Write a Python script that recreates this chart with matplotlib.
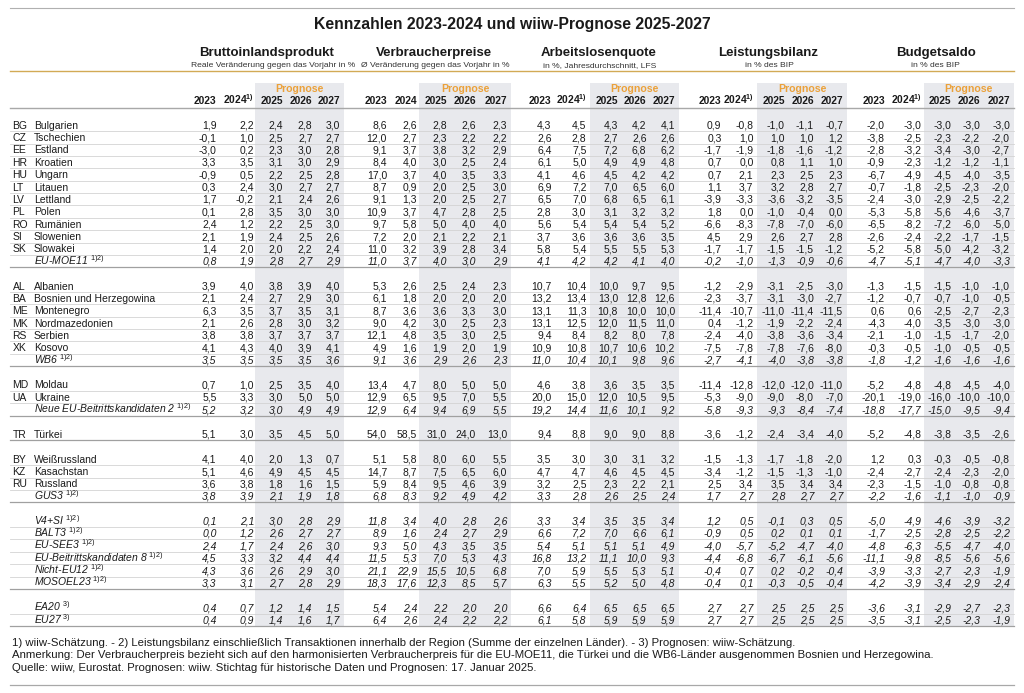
import matplotlib
matplotlib.use("Agg")
import matplotlib.pyplot as plt

plt.rcParams['font.family'] = ['Liberation Sans', 'DejaVu Sans']
plt.rcParams['mathtext.fontset'] = 'custom'
plt.rcParams['mathtext.rm'] = 'Liberation Sans'
plt.rcParams['mathtext.it'] = 'Liberation Sans:italic'
plt.rcParams['mathtext.bf'] = 'Liberation Sans:bold'

# ---------------- data ----------------
title = "Kennzahlen 2023-2024 und wiiw-Prognose 2025-2027"
groups = ["Bruttoinlandsprodukt", "Verbraucherpreise", "Arbeitslosenquote",
          "Leistungsbilanz", "Budgetsaldo"]
subtitles = ["Reale Veränderung gegen das Vorjahr in %",
             "Ø Veränderung gegen das Vorjahr in %",
             "in %, Jahresdurchschnitt, LFS",
             "in % des BIP", "in % des BIP"]
years = ["2023", "2024", "2025", "2026", "2027"]
year2024_note = ["1)", "", "1)", "1)", "1)"]
block_sizes = [12, 7, 3, 1, 4, 6, 2]

codes = ["BG", "CZ", "EE", "HR", "HU", "LT", "LV", "PL", "RO", "SI", "SK", "",
         "AL", "BA", "ME", "MK", "RS", "XK", "",
         "MD", "UA", "",
         "TR",
         "BY", "KZ", "RU", "",
         "", "", "", "", "", "",
         "", ""]
names = ["Bulgarien", "Tschechien", "Estland", "Kroatien", "Ungarn", "Litauen",
         "Lettland", "Polen", "Rumänien", "Slowenien", "Slowakei", "EU-MOE11",
         "Albanien", "Bosnien und Herzegowina", "Montenegro", "Nordmazedonien",
         "Serbien", "Kosovo", "WB6",
         "Moldau", "Ukraine", "Neue EU-Beitrittskandidaten 2",
         "Türkei",
         "Weißrussland", "Kasachstan", "Russland", "GUS3",
         "V4+SI", "BALT3", "EU-SEE3", "EU-Beitrittskandidaten 8", "Nicht-EU12",
         "MOSOEL23",
         "EA20", "EU27"]
name_notes = ["", "", "", "", "", "", "", "", "", "", "", "1)2)",
              "", "", "", "", "", "", "1)2)",
              "", "", "1)2)",
              "",
              "", "", "", "1)2)",
              "1)2)", "1)2)", "1)2)", "1)2)", "1)2)", "1)2)",
              "3)", "3)"]

bip = [
    [1.9, 2.2, 2.4, 2.8, 3.0], [-0.1, 1.0, 2.5, 2.7, 2.7], [-3.0, 0.2, 2.3, 3.0, 2.8],
    [3.3, 3.5, 3.1, 3.0, 2.9], [-0.9, 0.5, 2.2, 2.5, 2.8], [0.3, 2.4, 3.0, 2.7, 2.7],
    [1.7, -0.2, 2.1, 2.4, 2.6], [0.1, 2.8, 3.5, 3.0, 3.0], [2.4, 1.2, 2.2, 2.5, 3.0],
    [2.1, 1.9, 2.4, 2.5, 2.6], [1.4, 2.0, 2.0, 2.2, 2.4], [0.8, 1.9, 2.8, 2.7, 2.9],
    [3.9, 4.0, 3.8, 3.9, 4.0], [2.1, 2.4, 2.7, 2.9, 3.0], [6.3, 3.5, 3.7, 3.5, 3.1],
    [2.1, 2.6, 2.8, 3.0, 3.2], [3.8, 3.8, 3.7, 3.7, 3.7], [4.1, 4.3, 4.0, 3.9, 4.1],
    [3.5, 3.5, 3.5, 3.5, 3.6],
    [0.7, 1.0, 2.5, 3.5, 4.0], [5.5, 3.3, 3.0, 5.0, 5.0], [5.2, 3.2, 3.0, 4.9, 4.9],
    [5.1, 3.0, 3.5, 4.5, 5.0],
    [4.1, 4.0, 2.0, 1.3, 0.7], [5.1, 4.6, 4.9, 4.5, 4.5], [3.6, 3.8, 1.8, 1.6, 1.5],
    [3.8, 3.9, 2.1, 1.9, 1.8],
    [0.1, 2.1, 3.0, 2.8, 2.9], [0.0, 1.2, 2.6, 2.7, 2.7], [2.4, 1.7, 2.4, 2.6, 3.0],
    [4.5, 3.3, 3.2, 4.4, 4.4], [4.3, 3.6, 2.6, 2.9, 3.0], [3.3, 3.1, 2.7, 2.8, 2.9],
    [0.4, 0.7, 1.2, 1.4, 1.5], [0.4, 0.9, 1.4, 1.6, 1.7],
]
vpi = [
    [8.6, 2.6, 2.8, 2.6, 2.3], [12.0, 2.7, 2.3, 2.2, 2.2], [9.1, 3.7, 3.8, 3.2, 2.9],
    [8.4, 4.0, 3.0, 2.5, 2.4], [17.0, 3.7, 4.0, 3.5, 3.3], [8.7, 0.9, 2.0, 2.5, 3.0],
    [9.1, 1.3, 2.0, 2.5, 2.7], [10.9, 3.7, 4.7, 2.8, 2.5], [9.7, 5.8, 5.0, 4.0, 4.0],
    [7.2, 2.0, 2.1, 2.2, 2.1], [11.0, 3.2, 3.9, 2.8, 3.4], [11.0, 3.7, 4.0, 3.0, 2.9],
    [5.3, 2.6, 2.5, 2.4, 2.3], [6.1, 1.8, 2.0, 2.0, 2.0], [8.7, 3.6, 3.6, 3.3, 3.0],
    [9.0, 4.2, 3.0, 2.5, 2.3], [12.1, 4.8, 3.5, 3.0, 2.5], [4.9, 1.6, 1.9, 2.0, 1.9],
    [9.1, 3.6, 2.9, 2.6, 2.3],
    [13.4, 4.7, 8.0, 5.0, 5.0], [12.9, 6.5, 9.5, 7.0, 5.5], [12.9, 6.4, 9.4, 6.9, 5.5],
    [54.0, 58.5, 31.0, 24.0, 13.0],
    [5.1, 5.8, 8.0, 6.0, 5.5], [14.7, 8.7, 7.5, 6.5, 6.0], [5.9, 8.4, 9.5, 4.6, 3.9],
    [6.8, 8.3, 9.2, 4.9, 4.2],
    [11.8, 3.4, 4.0, 2.8, 2.6], [8.9, 1.6, 2.4, 2.7, 2.9], [9.3, 5.0, 4.3, 3.5, 3.5],
    [11.5, 5.3, 7.0, 5.3, 4.3], [21.1, 22.9, 15.5, 10.5, 6.8], [18.3, 17.6, 12.3, 8.5, 5.7],
    [5.4, 2.4, 2.2, 2.0, 2.0], [6.4, 2.6, 2.4, 2.2, 2.2],
]
alq = [
    [4.3, 4.5, 4.3, 4.2, 4.1], [2.6, 2.8, 2.7, 2.6, 2.6], [6.4, 7.5, 7.2, 6.8, 6.2],
    [6.1, 5.0, 4.9, 4.9, 4.8], [4.1, 4.6, 4.5, 4.2, 4.2], [6.9, 7.2, 7.0, 6.5, 6.0],
    [6.5, 7.0, 6.8, 6.5, 6.1], [2.8, 3.0, 3.1, 3.2, 3.2], [5.6, 5.4, 5.4, 5.4, 5.2],
    [3.7, 3.6, 3.6, 3.6, 3.5], [5.8, 5.4, 5.5, 5.5, 5.3], [4.1, 4.2, 4.2, 4.1, 4.0],
    [10.7, 10.4, 10.0, 9.7, 9.5], [13.2, 13.4, 13.0, 12.8, 12.6], [13.1, 11.3, 10.8, 10.0, 10.0],
    [13.1, 12.5, 12.0, 11.5, 11.0], [9.4, 8.4, 8.2, 8.0, 7.8], [10.9, 10.8, 10.7, 10.6, 10.2],
    [11.0, 10.4, 10.1, 9.8, 9.6],
    [4.6, 3.8, 3.6, 3.5, 3.5], [20.0, 15.0, 12.0, 10.5, 9.5], [19.2, 14.4, 11.6, 10.1, 9.2],
    [9.4, 8.8, 9.0, 9.0, 8.8],
    [3.5, 3.0, 3.0, 3.1, 3.2], [4.7, 4.7, 4.6, 4.5, 4.5], [3.2, 2.5, 2.3, 2.2, 2.1],
    [3.3, 2.8, 2.6, 2.5, 2.4],
    [3.3, 3.4, 3.5, 3.5, 3.4], [6.6, 7.2, 7.0, 6.6, 6.1], [5.4, 5.1, 5.1, 5.1, 4.9],
    [16.8, 13.2, 11.1, 10.0, 9.3], [7.0, 5.9, 5.5, 5.3, 5.1], [6.3, 5.5, 5.2, 5.0, 4.8],
    [6.6, 6.4, 6.5, 6.5, 6.5], [6.1, 5.8, 5.9, 5.9, 5.9],
]
lb = [
    [0.9, -0.8, -1.0, -1.1, -0.7], [0.3, 1.0, 1.0, 1.0, 1.2], [-1.7, -1.9, -1.8, -1.6, -1.2],
    [0.7, 0.0, 0.8, 1.1, 1.0], [0.7, 2.1, 2.3, 2.5, 2.3], [1.1, 3.7, 3.2, 2.8, 2.7],
    [-3.9, -3.3, -3.6, -3.2, -3.5], [1.8, 0.0, -1.0, -0.4, 0.0], [-6.6, -8.3, -7.8, -7.0, -6.0],
    [4.5, 2.9, 2.6, 2.7, 2.8], [-1.7, -1.7, -1.5, -1.5, -1.2], [-0.2, -1.0, -1.3, -0.9, -0.6],
    [-1.2, -2.9, -3.1, -2.5, -3.0], [-2.3, -3.7, -3.1, -3.0, -2.7],
    [-11.4, -10.7, -11.0, -11.4, -11.5],
    [0.4, -1.2, -1.9, -2.2, -2.4], [-2.4, -4.0, -3.8, -3.6, -3.4], [-7.5, -7.8, -7.8, -7.6, -8.0],
    [-2.7, -4.1, -4.0, -3.8, -3.8],
    [-11.4, -12.8, -12.0, -12.0, -11.0], [-5.3, -9.0, -9.0, -8.0, -7.0],
    [-5.8, -9.3, -9.3, -8.4, -7.4],
    [-3.6, -1.2, -2.4, -3.4, -4.0],
    [-1.5, -1.3, -1.7, -1.8, -2.0], [-3.4, -1.2, -1.5, -1.3, -1.0], [2.5, 3.4, 3.5, 3.4, 3.4],
    [1.7, 2.7, 2.8, 2.7, 2.7],
    [1.2, 0.5, -0.1, 0.3, 0.5], [-0.9, 0.5, 0.2, 0.1, 0.1], [-4.0, -5.7, -5.2, -4.7, -4.0],
    [-4.4, -6.8, -6.7, -6.1, -5.6], [-0.4, 0.7, 0.2, -0.2, -0.4], [-0.4, 0.1, -0.3, -0.5, -0.4],
    [2.7, 2.7, 2.5, 2.5, 2.5], [2.7, 2.7, 2.5, 2.5, 2.5],
]
bs = [
    [-2.0, -3.0, -3.0, -3.0, -3.0], [-3.8, -2.5, -2.3, -2.2, -2.0], [-2.8, -3.2, -3.4, -3.0, -2.7],
    [-0.9, -2.3, -1.2, -1.2, -1.1], [-6.7, -4.9, -4.5, -4.0, -3.5], [-0.7, -1.8, -2.5, -2.3, -2.0],
    [-2.4, -3.0, -2.9, -2.5, -2.2], [-5.3, -5.8, -5.6, -4.6, -3.7], [-6.5, -8.2, -7.2, -6.0, -5.0],
    [-2.6, -2.4, -2.2, -1.7, -1.5], [-5.2, -5.8, -5.0, -4.2, -3.2], [-4.7, -5.1, -4.7, -4.0, -3.3],
    [-1.3, -1.5, -1.5, -1.0, -1.0], [-1.2, -0.7, -0.7, -1.0, -0.5], [0.6, 0.6, -2.5, -2.7, -2.3],
    [-4.3, -4.0, -3.5, -3.0, -3.0], [-2.1, -1.0, -1.5, -1.7, -2.0], [-0.3, -0.5, -1.0, -0.5, -0.5],
    [-1.8, -1.2, -1.6, -1.6, -1.6],
    [-5.2, -4.8, -4.8, -4.5, -4.0], [-20.1, -19.0, -16.0, -10.0, -10.0],
    [-18.8, -17.7, -15.0, -9.5, -9.4],
    [-5.2, -4.8, -3.8, -3.5, -2.6],
    [1.2, 0.3, -0.3, -0.5, -0.8], [-2.4, -2.7, -2.4, -2.3, -2.0], [-2.3, -1.5, -1.0, -0.8, -0.8],
    [-2.2, -1.6, -1.1, -1.0, -0.9],
    [-5.0, -4.9, -4.6, -3.9, -3.2], [-1.7, -2.5, -2.8, -2.5, -2.2], [-4.8, -6.3, -5.5, -4.7, -4.0],
    [-11.1, -9.8, -8.5, -5.6, -5.6], [-3.9, -3.3, -2.7, -2.3, -1.9], [-4.2, -3.9, -3.4, -2.9, -2.4],
    [-3.6, -3.1, -2.9, -2.7, -2.3], [-3.5, -3.1, -2.5, -2.3, -1.9],
]
footnotes = [
    "1) wiiw-Schätzung. - 2) Leistungsbilanz einschließlich Transaktionen innerhalb der Region (Summe der einzelnen Länder). - 3) Prognosen: wiiw-Schätzung.",
    "Anmerkung: Der Verbraucherpreis bezieht sich auf den harmonisierten Verbraucherpreis für die EU-MOE11, die Türkei und die WB6-Länder ausgenommen Bosnien und Herzegowina.",
    "Quelle: wiiw, Eurostat. Prognosen: wiiw. Stichtag für historische Daten und Prognosen: 17. Januar 2025.",
]

# ---------------- layout ----------------
tables = [bip, vpi, alq, lb, bs]
col_right = [
    [216.5, 254.0, 283.0, 312.5, 340.0],
    [387.0, 417.0, 447.0, 476.0, 507.0],
    [551.5, 586.5, 618.0, 646.5, 675.0],
    [721.5, 753.5, 785.0, 814.0, 843.0],
    [885.0, 921.5, 951.5, 980.0, 1010.0],
]
title_x = [267, 434, 599, 768, 936]
sub_x = [273, 435, 600, 769, 935]
X0, X1 = 10, 1014
Y0, PITCH = 125.0, 12.37
TXT = "#1a1a1a"
ORANGE = "#eba13a"
GOLD = "#d2aa55"
SHADE = "#e8e9ed"

fig = plt.figure(figsize=(10.24, 6.93), dpi=100)
ax = fig.add_axes([0, 0, 1, 1])
ax.set_xlim(0, 1024)
ax.set_ylim(693, 0)
ax.axis("off")

# row positions
row_y = []
slot = 0
block_end = []
for bsz in block_sizes:
    for k in range(bsz):
        row_y.append(Y0 + slot * PITCH)
        block_end.append(k == bsz - 1)
        slot += 1
    slot += 1
last_y = row_y[-1] + PITCH / 2

# shading for forecast columns
for g in range(5):
    xa = col_right[g][2] - 28
    xb = col_right[g][4] + 4
    ax.fill_between([xa, xb], 83, last_y, color=SHADE, lw=0, zorder=0)

# top rule, title
ax.plot([X0, X1], [8, 8], color="#b0b0b0", lw=0.8)
ax.text(512, 24, title, ha="center", va="center", fontsize=11.3,
        fontweight="bold", color=TXT)

# group headers
for g in range(5):
    ax.text(title_x[g], 53, groups[g], ha="center", va="center",
            fontsize=9.5, fontweight="bold", color=TXT)
    ax.text(sub_x[g], 65.5, subtitles[g], ha="center", va="center",
            fontsize=6.1, color="#333333")
ax.plot([X0, X1], [70.7, 70.7], color=GOLD, lw=1.0)

for g in range(5):
    cx = (col_right[g][2] - 28 + col_right[g][4] + 4) / 2
    ax.text(cx, 89.5, "Prognose", ha="center", va="center", fontsize=7.6,
            fontweight="bold", color=ORANGE)
    for j, yr in enumerate(years):
        lab = yr
        if j == 1 and year2024_note[g]:
            lab = yr + r"$^{\mathbf{" + year2024_note[g] + "}}$"
        ax.text(col_right[g][j], 104.5, lab, ha="right", va="baseline",
                fontsize=7.4, fontweight="bold", color=TXT)
ax.plot([X0, X1], [108, 108], color="#a8a8a8", lw=1.0)

# rows
def fmt(v):
    return f"{v:.1f}".replace(".", ",")

for i, y in enumerate(row_y):
    italic = codes[i] == ""
    style = "italic" if italic else "normal"
    base = y + 3.7
    if codes[i]:
        ax.text(12.5, base, codes[i], ha="left", va="baseline", fontsize=7.5, color=TXT)
    lab = names[i]
    if name_notes[i]:
        lab = lab + " $^{" + name_notes[i] + "}$"
    ax.text(34, base, lab, ha="left", va="baseline", fontsize=7.5,
            color=TXT, fontstyle=style)
    for g in range(5):
        for j in range(5):
            ax.text(col_right[g][j], base, fmt(tables[g][i][j]), ha="right",
                    va="baseline", fontsize=7.5, color=TXT, fontstyle=style)
    ly = y + PITCH / 2
    if block_end[i]:
        ax.plot([X0, X1], [ly, ly], color="#a0a0a0", lw=0.9, zorder=1)
    else:
        ax.plot([X0, X1], [ly, ly], color="#d3d3d3", lw=0.6, zorder=1)

# footnotes
for k, t in enumerate(footnotes):
    ax.text(11.5, 643 + k * 12.4, t, ha="left", va="center", fontsize=8.2, color=TXT)
ax.plot([X0, X1], [685, 685], color="#a8a8a8", lw=0.9)

fig.savefig("out.png", dpi=100)
